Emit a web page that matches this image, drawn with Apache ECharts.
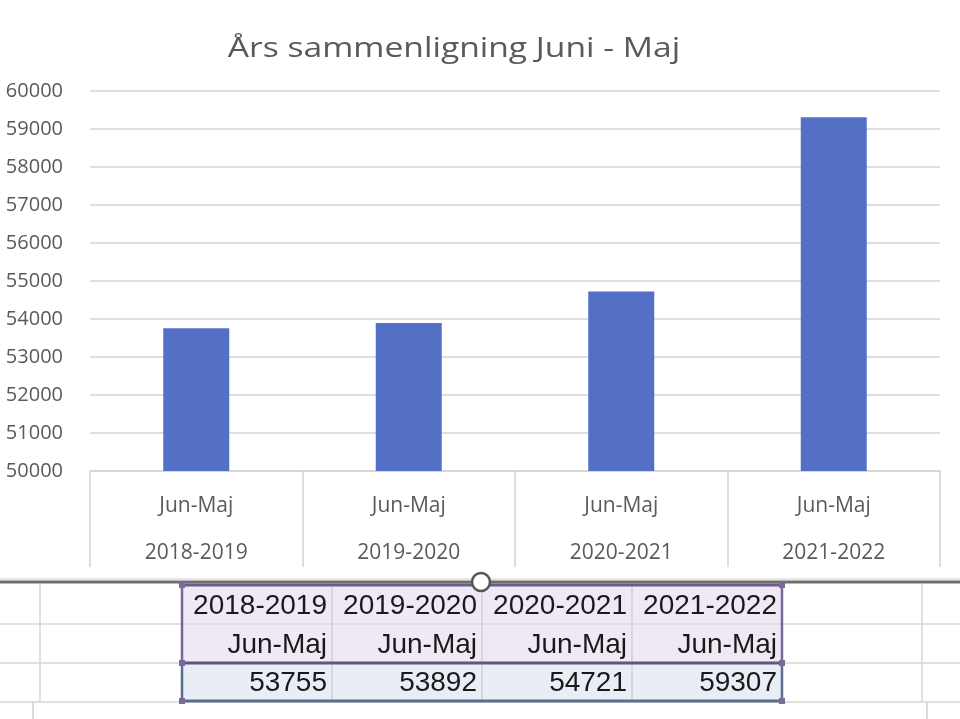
<!DOCTYPE html>
<html><head><meta charset="utf-8">
<script src="https://cdn.jsdelivr.net/npm/echarts@6/dist/echarts.min.js"></script>
<style>html,body{margin:0;padding:0;background:#fff}#c{width:960px;height:719px}</style>
</head><body><div id="c"></div>
<script>
const chartTitle = 'Års sammenligning Juni - Maj';
const periods = ['Jun-Maj', 'Jun-Maj', 'Jun-Maj', 'Jun-Maj'];
const years = ['2018-2019', '2019-2020', '2020-2021', '2021-2022'];
const values = [53755, 53892, 54721, 59307];
const yMin = 50000, yMax = 60000, yStep = 1000;

const chart = echarts.init(document.getElementById('c'));
const labelColor = '#5a5a5a';
const gridColor = '#d4d4d4';

// spreadsheet-like table under the chart (layout constants)
const tX = 182, colW = 150, rowY = [585, 624, 663, 701];
const g = [];
const line = (x1, y1, x2, y2, color, w) => g.push({type: 'line', silent: true, shape: {x1, y1, x2, y2}, style: {stroke: color, lineWidth: w}});
// chart title (stretched like the reference)
g.push({type: 'text', silent: true, x: 454, y: 63, scaleX: 1.2, originX: 0, originY: 0,
  style: {text: chartTitle, fontFamily: 'Open Sans', fontSize: 28, fill: labelColor, align: 'center', verticalAlign: 'bottom'}});
// sheet gridlines
[624, 663, 702].forEach(y => line(0, y, 960, y, '#d6d6d6', 1.5));
line(40, 584, 40, 702, '#d6d6d6', 1.5);
line(922, 584, 922, 702, '#d6d6d6', 1.5);
line(33, 703, 33, 719, '#cfcfcf', 1.5);
line(927, 703, 927, 719, '#cfcfcf', 1.5);
// chart frame bottom
line(0, 579, 960, 579, '#d0d0d0', 1);
line(0, 582, 960, 582, '#6e6e6e', 3);
// table fills
const tW = colW * years.length;
g.push({type: 'rect', silent: true, shape: {x: tX, y: rowY[0], width: tW, height: rowY[2] - rowY[0]}, style: {fill: '#efe9f5'}});
g.push({type: 'rect', silent: true, shape: {x: tX, y: rowY[2], width: tW, height: rowY[3] - rowY[2]}, style: {fill: '#e9edf6'}});
for (let i = 1; i < years.length; i++) line(tX + i * colW, rowY[0], tX + i * colW, rowY[3], '#d3cbdc', 1.5);
line(tX, rowY[1], tX + tW, rowY[1], '#ddd5e6', 1.5);
// borders
line(tX, rowY[0], tX + tW, rowY[0], '#6d5b8c', 3);
line(tX, rowY[0], tX, rowY[2], '#7a679a', 2.5);
line(tX + tW, rowY[0], tX + tW, rowY[2], '#7a679a', 2.5);
line(tX, rowY[2], tX + tW, rowY[2], '#5e5878', 3);
line(tX, rowY[2], tX, rowY[3], '#5b6e8e', 2.5);
line(tX + tW, rowY[2], tX + tW, rowY[3], '#5b6e8e', 2.5);
line(tX, rowY[3], tX + tW, rowY[3], '#5b6e8e', 3);
// handles
[[tX, rowY[0]], [tX, rowY[2]], [tX, rowY[3]], [tX + tW, rowY[0]], [tX + tW, rowY[2]], [tX + tW, rowY[3]]].forEach(([x, y]) =>
  g.push({type: 'rect', silent: true, shape: {x: x - 3, y: y - 3, width: 6, height: 6}, style: {fill: '#7a6a9a'}}));
g.push({type: 'circle', silent: true, shape: {cx: 481, cy: 582, r: 9}, style: {fill: '#fff', stroke: '#555', lineWidth: 2.5}});
// texts
const tFont = {fontFamily: 'Liberation Sans', fontSize: 28, fill: '#1a1a1a', align: 'right', verticalAlign: 'middle'};
years.forEach((y, i) => {
  const xr = tX + (i + 1) * colW - 5;
  g.push({type: 'text', silent: true, x: xr, y: 606, style: Object.assign({text: y}, tFont)});
  g.push({type: 'text', silent: true, x: xr, y: 645, style: Object.assign({text: periods[i]}, tFont)});
  g.push({type: 'text', silent: true, x: xr, y: 683, style: Object.assign({text: String(values[i])}, tFont)});
});

chart.setOption({
  animation: false,
  backgroundColor: '#fff',
  grid: {left: 90, right: 20, top: 91, bottom: 248},
  xAxis: {
    type: 'category', data: years,
    axisLine: {lineStyle: {color: gridColor, width: 1.5}},
    axisTick: {show: true, length: 96, lineStyle: {color: gridColor, width: 1.5}},
    axisLabel: {
      margin: 12,
      formatter: (v, i) => '{a|' + periods[i] + '}\n{b|' + v + '}',
      rich: {
        a: {fontFamily: 'Open Sans', fontSize: 21, lineHeight: 47, color: labelColor},
        b: {fontFamily: 'Open Sans', fontSize: 21, lineHeight: 47, color: labelColor}
      }
    }
  },
  yAxis: {
    type: 'value', min: yMin, max: yMax, interval: yStep,
    axisLine: {show: false}, axisTick: {show: false},
    splitLine: {lineStyle: {color: gridColor, width: 1.5}},
    axisLabel: {margin: 27, fontFamily: 'Open Sans', fontSize: 20, color: labelColor, formatter: v => String(v)}
  },
  series: [{
    type: 'bar', data: values, barWidth: 66,
    itemStyle: {color: '#5470c6'}
  }],
  graphic: g
});
</script></body></html>
